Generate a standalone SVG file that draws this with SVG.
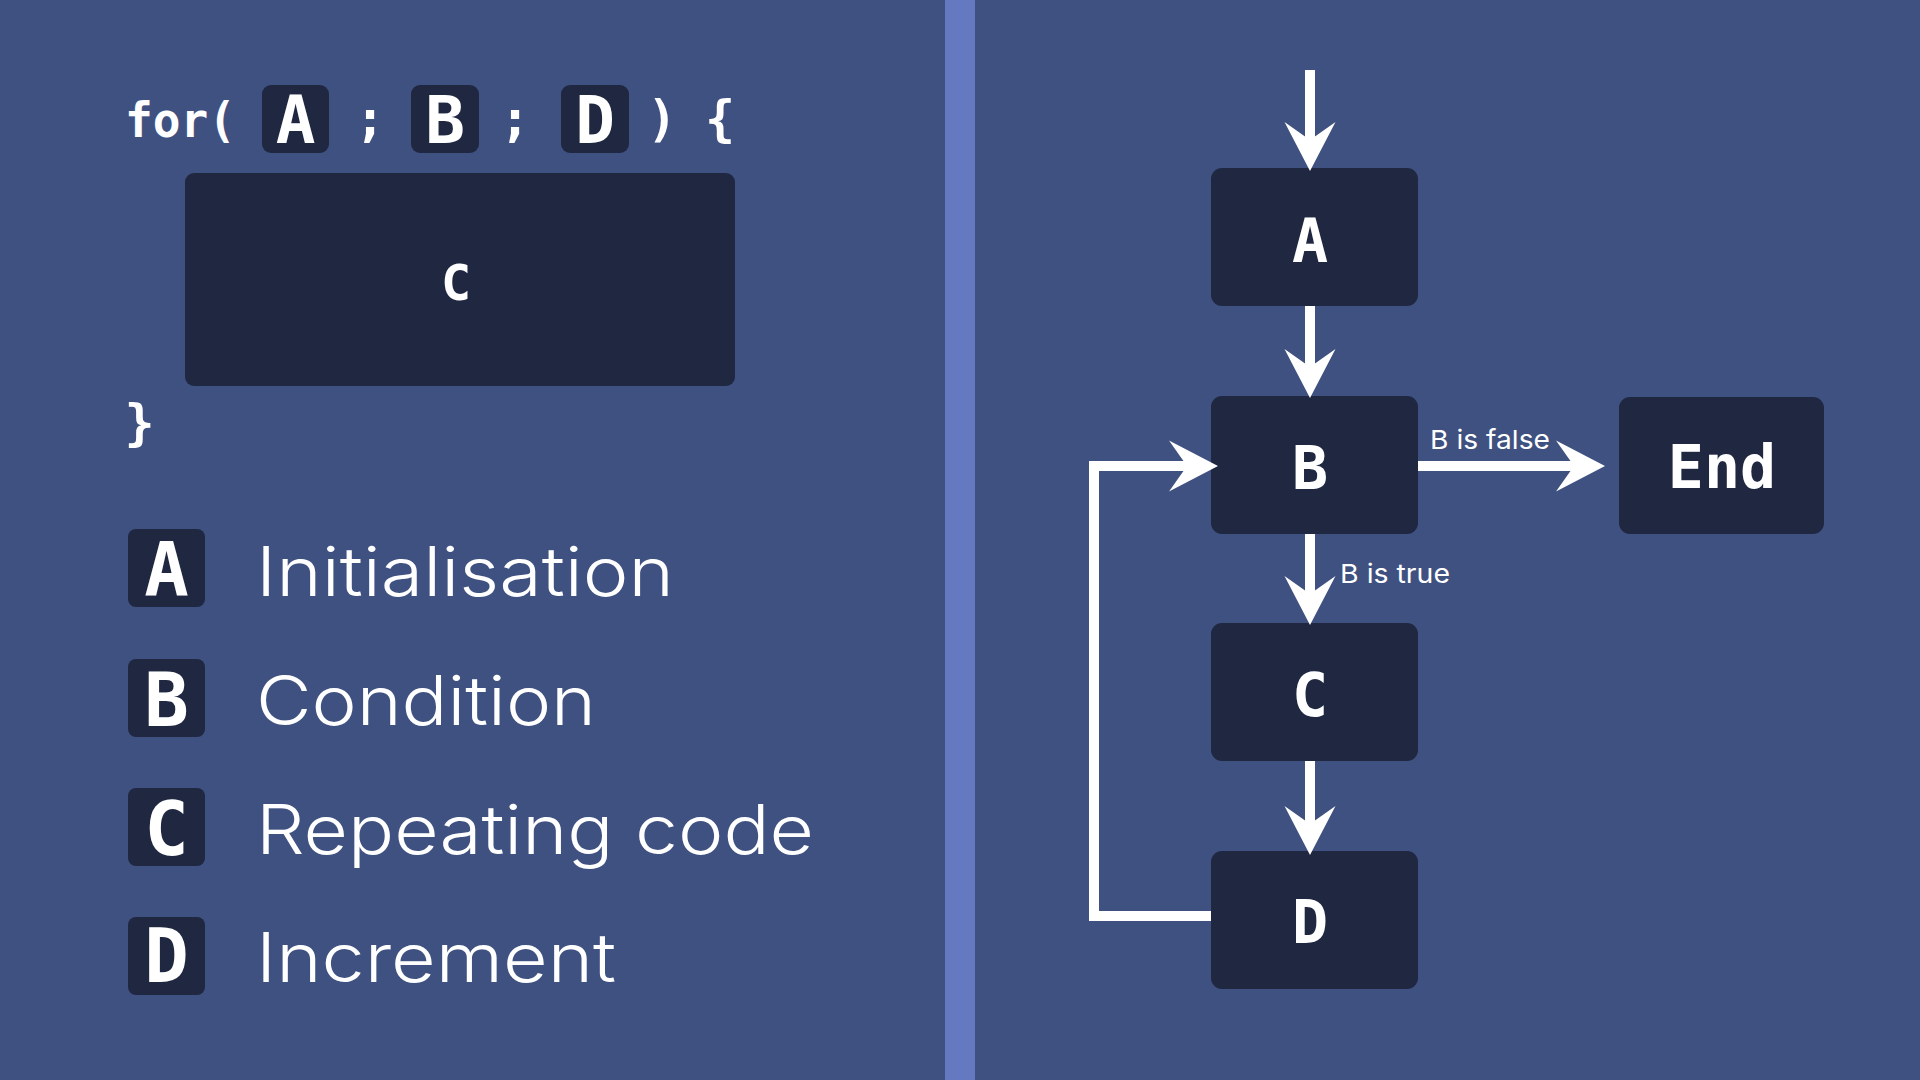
<svg xmlns="http://www.w3.org/2000/svg" width="1920" height="1080" viewBox="0 0 1920 1080">
<style>
.nd{fill:#1F2741}
.mono{font-family:"DejaVu Sans Mono","Liberation Mono",monospace;font-weight:bold;fill:#fff}
.mid{text-anchor:middle}
.lg{font-family:Inter,"Noto Sans",sans-serif;font-weight:300;fill:#fff;font-size:68px}
.lb{font-family:Inter,"Noto Sans",sans-serif;font-weight:400;fill:#fff;font-size:26px}
.cn{fill:none;stroke:#fff;stroke-width:10;stroke-linejoin:miter}
</style>
<defs>
<marker id="arr" markerUnits="userSpaceOnUse" markerWidth="60" markerHeight="60" refX="0" refY="0" orient="auto" overflow="visible">
<path d="M28,0 L-21,-25.5 L-3,0 L-21,25.5 Z" fill="#fff"/>
</marker>
</defs>
<rect x="0" y="0" width="1920" height="1080" fill="#3F5180"/>
<rect x="945" y="0" width="30" height="1080" fill="#6579C1"/>

<g id="code">
<text class="mono" x="125" y="137" font-size="48" textLength="111" lengthAdjust="spacingAndGlyphs">for(</text>
<rect class="nd" x="262" y="85" width="67" height="68" rx="9"/>
<text class="mono mid" x="295.5" y="143" font-size="66">A</text>
<text class="mono mid" x="370" y="136" font-size="50">;</text>
<rect class="nd" x="411" y="85" width="68" height="68" rx="9"/>
<text class="mono mid" x="445" y="143" font-size="66">B</text>
<text class="mono mid" x="515" y="136" font-size="50">;</text>
<rect class="nd" x="561" y="85" width="68" height="68" rx="9"/>
<text class="mono mid" x="595" y="143" font-size="66">D</text>
<text class="mono mid" x="662" y="136" font-size="50">)</text>
<text class="mono mid" x="720" y="136" font-size="50">{</text>
<rect class="nd" x="185" y="173" width="550" height="213" rx="9"/>
<text class="mono mid" x="456" y="300" font-size="50">C</text>
<text class="mono mid" x="139.5" y="440" font-size="50">}</text>
</g>

<g id="legend">
<g id="legend-a">
<rect class="nd" x="128" y="529" width="77" height="78" rx="8"/>
<text class="mono mid" x="166.5" y="596" font-size="74">A</text>
<text class="lg" x="256" y="596" textLength="418" lengthAdjust="spacingAndGlyphs">Initialisation</text>
</g>
<g id="legend-b">
<rect class="nd" x="128" y="659" width="77" height="78" rx="8"/>
<text class="mono mid" x="166.5" y="726" font-size="74">B</text>
<text class="lg" x="256" y="725" textLength="340" lengthAdjust="spacingAndGlyphs">Condition</text>
</g>
<g id="legend-c">
<rect class="nd" x="128" y="788" width="77" height="78" rx="8"/>
<text class="mono mid" x="166.5" y="855" font-size="74">C</text>
<text class="lg" x="256" y="854" textLength="558" lengthAdjust="spacingAndGlyphs">Repeating code</text>
</g>
<g id="legend-d">
<rect class="nd" x="128" y="917" width="77" height="78" rx="8"/>
<text class="mono mid" x="166.5" y="982" font-size="74">D</text>
<text class="lg" x="256" y="982" textLength="360" lengthAdjust="spacingAndGlyphs">Increment</text>
</g>
</g>

<g id="node-a">
<rect class="nd" x="1211" y="168" width="207" height="138" rx="11"/>
<text class="mono mid" x="1310" y="262" font-size="60">A</text>
</g>
<g id="node-b">
<rect class="nd" x="1211" y="396" width="207" height="138" rx="11"/>
<text class="mono mid" x="1310" y="489" font-size="60">B</text>
</g>
<g id="node-c">
<rect class="nd" x="1211" y="623" width="207" height="138" rx="11"/>
<text class="mono mid" x="1310" y="716" font-size="60">C</text>
</g>
<g id="node-d">
<rect class="nd" x="1211" y="851" width="207" height="138" rx="11"/>
<text class="mono mid" x="1310" y="943" font-size="60">D</text>
</g>
<g id="node-end">
<rect class="nd" x="1619" y="397" width="205" height="137" rx="11"/>
<text class="mono mid" x="1722" y="488" font-size="60">End</text>
</g>

<g id="connectors">
<path class="cn" d="M1310,70 V143" marker-end="url(#arr)"/>
<path class="cn" d="M1310,306 V370" marker-end="url(#arr)"/>
<path class="cn" d="M1310,534 V597" marker-end="url(#arr)"/>
<path class="cn" d="M1310,761 V827" marker-end="url(#arr)"/>
<path class="cn" d="M1418,466 H1577" marker-end="url(#arr)"/>
<path class="cn" d="M1211,916 H1094 V466 H1190" marker-end="url(#arr)"/>
<text class="lb" x="1430" y="449" textLength="120" lengthAdjust="spacingAndGlyphs">B is false</text>
<text class="lb" x="1340" y="583" textLength="110" lengthAdjust="spacingAndGlyphs">B is true</text>
</g>
</svg>
